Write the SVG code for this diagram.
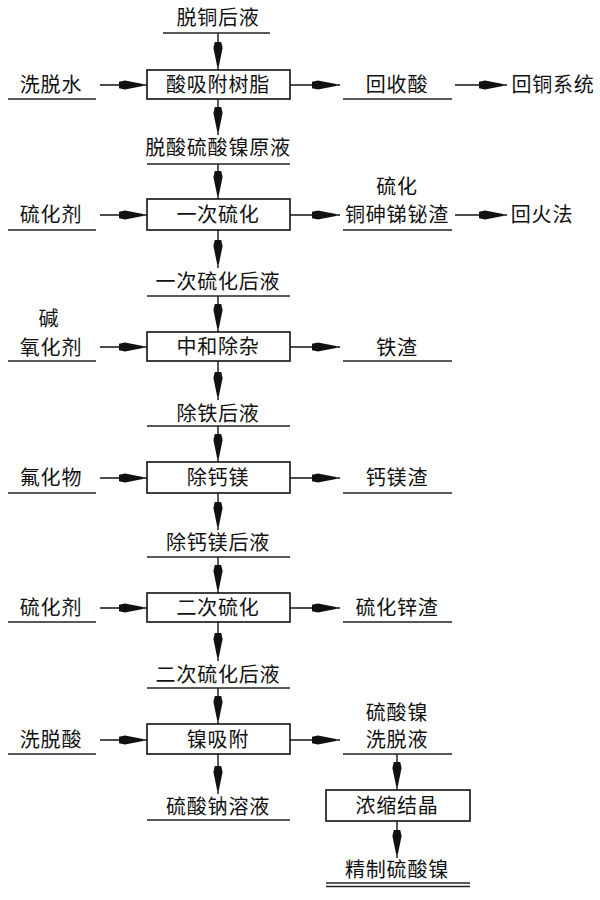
<svg xmlns="http://www.w3.org/2000/svg" width="600" height="900" viewBox="0 0 600 900">
<style>
text{font-family:"Noto Sans CJK SC","Noto Sans",sans-serif;font-size:20px;fill:#111;text-anchor:middle;letter-spacing:0.8px}
.box{fill:#fff;stroke:#111;stroke-width:1.6}
.ul{stroke:#222;stroke-width:1.6}
.c{stroke:#111;stroke-width:1.4;fill:none;marker-end:url(#ah)}
</style>
<defs>
<marker id="ah" markerUnits="userSpaceOnUse" markerWidth="32" markerHeight="12" viewBox="-26 -6 32 12" refX="4" refY="0" orient="auto">
<path d="M-24,-3.2 L-18,-4.6 L0,-0.9 L0,0.9 L-18,4.6 L-24,3.2 Z" fill="#111"/>
</marker>
</defs>
<rect width="600" height="900" fill="#fff"/>
<g id="connectors">
<line class="c" x1="218" y1="33" x2="218" y2="70"/>
<line class="c" x1="100" y1="85" x2="147" y2="85"/>
<line class="c" x1="290" y1="85" x2="340" y2="85"/>
<line class="c" x1="455" y1="85" x2="507" y2="85"/>
<line class="c" x1="218" y1="99" x2="218" y2="135"/>
<line class="c" x1="218" y1="164" x2="218" y2="199"/>
<line class="c" x1="100" y1="215" x2="147" y2="215"/>
<line class="c" x1="290" y1="215" x2="340" y2="215"/>
<line class="c" x1="455" y1="215" x2="507" y2="215"/>
<line class="c" x1="218" y1="230" x2="218" y2="268"/>
<line class="c" x1="218" y1="296" x2="218" y2="332"/>
<line class="c" x1="100" y1="347" x2="147" y2="347"/>
<line class="c" x1="290" y1="347" x2="340" y2="347"/>
<line class="c" x1="218" y1="361" x2="218" y2="400"/>
<line class="c" x1="218" y1="426" x2="218" y2="462"/>
<line class="c" x1="100" y1="478" x2="147" y2="478"/>
<line class="c" x1="290" y1="478" x2="340" y2="478"/>
<line class="c" x1="218" y1="493" x2="218" y2="530"/>
<line class="c" x1="218" y1="557" x2="218" y2="593"/>
<line class="c" x1="100" y1="608" x2="147" y2="608"/>
<line class="c" x1="290" y1="608" x2="340" y2="608"/>
<line class="c" x1="218" y1="622" x2="218" y2="661"/>
<line class="c" x1="218" y1="688" x2="218" y2="724"/>
<line class="c" x1="100" y1="740" x2="147" y2="740"/>
<line class="c" x1="290" y1="740" x2="340" y2="740"/>
<line class="c" x1="218" y1="754" x2="218" y2="794"/>
<line class="c" x1="397" y1="754" x2="397" y2="790"/>
<line class="c" x1="397" y1="821" x2="397" y2="858"/>
</g>
<g id="n-tuotonghouye"><text x="218" y="25">脱铜后液</text><line class="ul" x1="163" y1="33" x2="270" y2="33"/></g>
<g id="n-xituoshui"><text x="51" y="92">洗脱水</text><line class="ul" x1="8" y1="99" x2="96" y2="99"/></g>
<g id="n-suanxifu"><rect class="box" x="147" y="70" width="143" height="29"/><text x="218" y="92">酸吸附树脂</text></g>
<g id="n-huishousuan"><text x="397" y="92">回收酸</text><line class="ul" x1="343" y1="99" x2="452" y2="99"/></g>
<g id="n-huitong"><text x="553" y="92">回铜系统</text></g>
<g id="n-yuanye"><text x="218" y="155">脱酸硫酸镍原液</text><line class="ul" x1="147" y1="164" x2="290" y2="164"/></g>
<g id="n-liuhuaji1"><text x="51" y="222">硫化剂</text><line class="ul" x1="8" y1="230" x2="96" y2="230"/></g>
<g id="n-yicilihua"><rect class="box" x="147" y="199" width="143" height="31"/><text x="218" y="222">一次硫化</text></g>
<g id="n-tongshenzha"><text x="397" y="194">硫化</text><text x="397" y="222">铜砷锑铋渣</text><line class="ul" x1="343" y1="230" x2="452" y2="230"/></g>
<g id="n-huihuofa"><text x="542" y="222">回火法</text></g>
<g id="n-yicihouye"><text x="218" y="289">一次硫化后液</text><line class="ul" x1="147" y1="296" x2="290" y2="296"/></g>
<g id="n-yanghuaji"><text x="49" y="326">碱</text><text x="51" y="355">氧化剂</text><line class="ul" x1="8" y1="361" x2="96" y2="361"/></g>
<g id="n-zhonghe"><rect class="box" x="147" y="332" width="143" height="29"/><text x="218" y="354">中和除杂</text></g>
<g id="n-tiezha"><text x="397" y="355">铁渣</text><line class="ul" x1="343" y1="361" x2="452" y2="361"/></g>
<g id="n-chutiehouye"><text x="218" y="421">除铁后液</text><line class="ul" x1="147" y1="426" x2="290" y2="426"/></g>
<g id="n-fuhuawu"><text x="51" y="485">氟化物</text><line class="ul" x1="8" y1="493" x2="96" y2="493"/></g>
<g id="n-chugaimei"><rect class="box" x="147" y="462" width="143" height="31"/><text x="218" y="485">除钙镁</text></g>
<g id="n-gaimeizha"><text x="397" y="485">钙镁渣</text><line class="ul" x1="343" y1="493" x2="452" y2="493"/></g>
<g id="n-chugaimeihouye"><text x="218" y="550">除钙镁后液</text><line class="ul" x1="147" y1="557" x2="290" y2="557"/></g>
<g id="n-liuhuaji2"><text x="51" y="615">硫化剂</text><line class="ul" x1="8" y1="622" x2="96" y2="622"/></g>
<g id="n-ercilihua"><rect class="box" x="147" y="593" width="143" height="29"/><text x="218" y="615">二次硫化</text></g>
<g id="n-xinzha"><text x="397" y="615">硫化锌渣</text><line class="ul" x1="343" y1="622" x2="452" y2="622"/></g>
<g id="n-ercihouye"><text x="218" y="682">二次硫化后液</text><line class="ul" x1="147" y1="688" x2="290" y2="688"/></g>
<g id="n-xituosuan"><text x="51" y="747">洗脱酸</text><line class="ul" x1="8" y1="754" x2="96" y2="754"/></g>
<g id="n-niexifu"><rect class="box" x="147" y="724" width="143" height="30"/><text x="218" y="747">镍吸附</text></g>
<g id="n-xituoye"><text x="397" y="720">硫酸镍</text><text x="397" y="747">洗脱液</text><line class="ul" x1="343" y1="754" x2="452" y2="754"/></g>
<g id="n-liusuanna"><text x="218" y="814">硫酸钠溶液</text><line class="ul" x1="147" y1="820" x2="290" y2="820"/></g>
<g id="n-nongsuo"><rect class="box" x="326" y="790" width="144" height="31"/><text x="397" y="813">浓缩结晶</text></g>
<g id="n-jingzhi"><text x="397" y="877">精制硫酸镍</text><line class="ul" x1="326" y1="883" x2="470" y2="883"/><line class="ul" x1="326" y1="886.5" x2="470" y2="886.5"/></g>
</svg>
